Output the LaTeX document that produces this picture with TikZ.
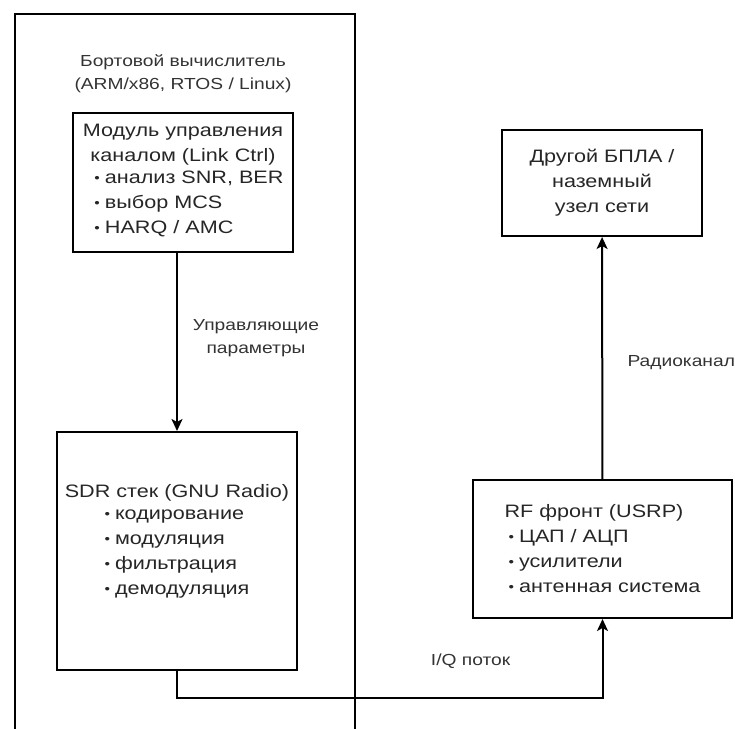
\documentclass[tikz,border=0pt]{standalone}
\usepackage{fontspec}
\setmainfont[FakeStretch=1.2]{Liberation Sans}
\usetikzlibrary{positioning,arrows.meta,calc}
\tikzset{blk/.style={draw, line width=2pt, inner sep=0pt, align=center, text=black!85, font=\fontsize{18}{25}\selectfont}}
\tikzset{lbl/.style={align=center, text=black!80, inner sep=0pt, font=\fontsize{16}{23}\selectfont}}
\tikzset{arr/.style={draw, line width=2pt, -{Stealth[length=12pt,width=11pt,inset=3pt]}}}
\newcommand{\bul}{\raisebox{1.4pt}{\fontsize{13}{13}\selectfont•}\hspace{5pt}}
\newcommand{\bullist}[1]{\begin{tabular}{@{}l@{}}#1\end{tabular}}

\begin{document}
\begin{tikzpicture}[x=1pt,y=-1pt]
	\clip (0,0) rectangle (735,728);
	\node[blk, anchor=north west, minimum width=340pt, minimum height=760pt] (obc) at (14,13) {};
	\node[blk, minimum width=220pt, minimum height=139pt] (ctrl) at (183,182.5)
		{Модуль управления\\каналом (Link Ctrl)\\\hspace{12pt}\bullist{\bul анализ SNR, BER\\\bul выбор MCS\\\bul HARQ / AMC}};
	\node[lbl, above=19pt of ctrl] (obclbl) {Бортовой вычислитель\\(ARM/x86, RTOS / Linux)};
	\node[blk, minimum width=240pt, minimum height=238pt] (sdr) at (177,551)
		{SDR стек (GNU Radio)\\\bullist{\bul кодирование\\\bul модуляция\\\bul фильтрация\\\bul демодуляция}\\[14pt]};
	\node[blk, minimum width=259pt, minimum height=138pt, align=left] (rf) at (602.5,549)
		{RF фронт (USRP)\\\hspace{4pt}\bul ЦАП / АЦП\\\hspace{4pt}\bul усилители\\\hspace{4pt}\bul антенная система};
	\node[blk, minimum width=200pt, minimum height=106pt] (peer) at (602,183)
		{Другой БПЛА /\\наземный\\узел сети};
%
	\draw[arr] (sdr.north |- ctrl.south) -- node[lbl, pos=0.48, xshift=79pt]{Управляющие\\параметры} (sdr.north);
	\draw[arr] (rf) -- node[lbl, pos=0.48, xshift=79pt]{Радиоканал} (peer);
	\draw[arr] (sdr.south) -- ++(0,27) -| node[lbl, pos=0.345, yshift=37pt]{I/Q поток} (rf.south);
\end{tikzpicture}
\end{document}
